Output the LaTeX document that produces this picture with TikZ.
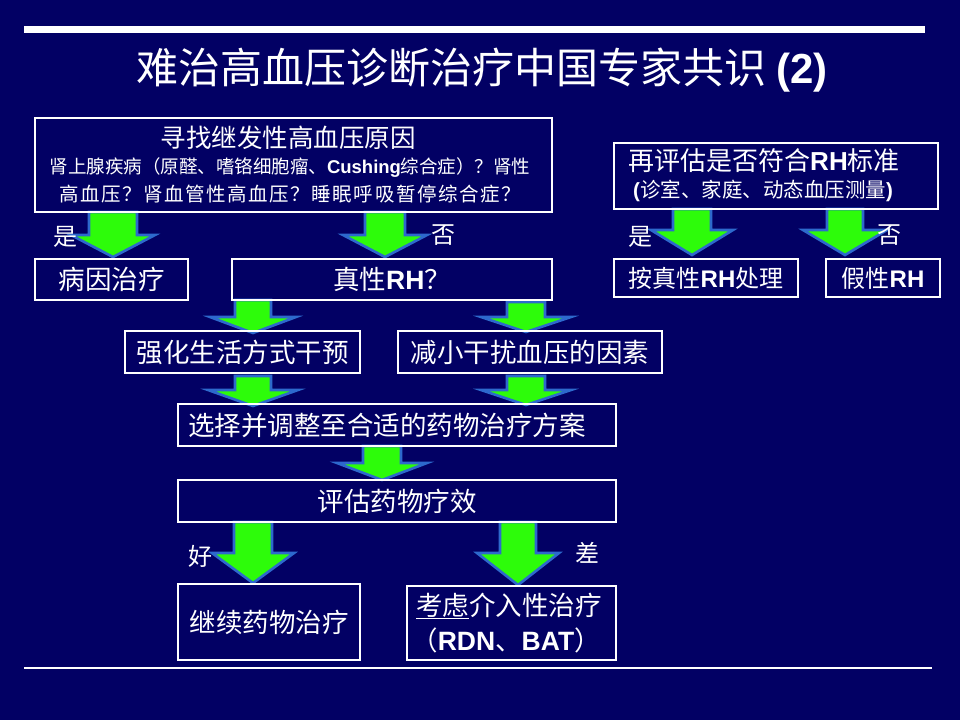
\documentclass[tikz,border=0pt]{standalone}
\usepackage{fontspec}
\setmainfont{Noto Sans CJK SC}
\newfontfamily\latinb{Liberation Sans}
\definecolor{bgnavy}{RGB}{2,0,100}
\definecolor{agreen}{RGB}{45,252,10}
\definecolor{ablue}{RGB}{45,105,205}
\newcommand\barrow[6]{%
  \filldraw[ablue,line width=2.6pt,line join=miter,fill=agreen]
  ({#1-#5},#2) -- ({#1+#5},#2) -- ({#1+#5},#3) -- ({#1+#6},#3) -- (#1,#4)
  -- ({#1-#6},#3) -- ({#1-#5},#3) -- cycle;}
\newcommand\RH[1]{{\latinb\bfseries #1}}
\begin{document}
\begin{tikzpicture}[x=1pt,y=-1pt,
  box/.style={draw=white,line width=1.3pt,inner sep=0pt,text=white,align=center},
  bfont/.style={font=\fontsize{26.5}{30}\selectfont},
  btext/.style={text=white,inner sep=0pt,bfont},
  lab/.style={text=white,inner sep=0pt,font=\fontsize{24}{28}\selectfont}]
\fill[bgnavy] (0,0) rectangle (960,720);
\useasboundingbox (0,0) rectangle (960,720);
% top and bottom rules
\fill[white] (24,26) rectangle (925,33);
\draw[white,line width=1.3pt] (24,668) -- (932,668);
% title
\node[text=white,inner sep=0pt,font=\fontsize{42}{46}\selectfont] (title) at (482,70)
  {难治高血压诊断治疗中国专家共识 {\latinb\bfseries (2)}};
% arrows (drawn first so boxes overlap them)
\barrow{113}{212}{235}{257}{24}{42}
\barrow{385}{212}{235}{257}{20}{42}
\barrow{692}{209}{230}{255}{19}{41}
\barrow{845}{209}{230}{255}{18}{42}
\barrow{253}{300}{317}{333}{18}{43}
\barrow{526}{302}{317}{332}{19}{45}
\barrow{253}{376}{390}{406}{18}{45}
\barrow{526}{376}{390}{405}{19}{45}
\barrow{382}{446}{463}{480}{19}{45}
\barrow{253}{522}{553}{583}{19}{41}
\barrow{518}{522}{553}{585}{18}{41}
% boxes
\node[box,minimum width=517pt,minimum height=94pt] (A) at (293.5,165) {};
\node[text=white,inner sep=0pt,font=\fontsize{25.5}{30}\selectfont] (Al1) at (288,138) {寻找继发性高血压原因};
\node[text=white,inner sep=0pt,font=\fontsize{18.5}{24}\selectfont] (Al2) at (290,168)
  {肾上腺疾病（原醛、嗜铬细胞瘤、\RH{Cushing}综合症）？肾性};
\node[text=white,inner sep=0pt,font=\fontsize{19.5}{24}\selectfont\addfontfeature{LetterSpace=8}] (Al3) at (290,194)
  {高血压？肾血管性高血压？睡眠呼吸暂停综合症？};
\node[box,minimum width=153pt,minimum height=41pt,bfont] (bingyin) at (111.5,279.5) {病因治疗};
\node[box,minimum width=320pt,minimum height=41pt,bfont] (zhenxing) at (392,279.5) {真性\RH{RH}？};
\node[box,minimum width=235pt,minimum height=42pt,bfont] (qianghua) at (242.5,352) {强化生活方式干预};
\node[box,minimum width=264pt,minimum height=42pt,bfont] (jianxiao) at (530,352) {减小干扰血压的因素};
\node[box,minimum width=438pt,minimum height=42pt] (xuanze) at (397,425) {};
\node[btext,anchor=west] (xuanzet) at (188,425) {选择并调整至合适的药物治疗方案};
\node[box,minimum width=438pt,minimum height=42pt,bfont] (pinggu) at (397,501) {评估药物疗效};
\node[box,minimum width=182pt,minimum height=76pt,bfont] (jixu) at (269,622) {继续药物治疗};
\node[box,minimum width=209pt,minimum height=74pt] (kaolv) at (511.5,623) {};
\node[btext] (kaolv1) at (509,606) {\underline{考虑}介入性治疗};
\node[btext] (kaolv2) at (506,640) {（\RH{RDN}、\RH{BAT}）};
\node[box,minimum width=324pt,minimum height=66pt] (zai) at (776,176) {};
\node[text=white,inner sep=0pt,font=\fontsize{26}{30}\selectfont] (zai1) at (764,161) {再评估是否符合\RH{RH}标准};
\node[text=white,inner sep=0pt,font=\fontsize{20.5}{24}\selectfont] (zai2) at (763,191) {\RH{(}诊室、家庭、动态血压测量\RH{)}};
\node[box,minimum width=184pt,minimum height=38pt,font=\fontsize{24}{28}\selectfont] (anzhen) at (706,278) {按真性\RH{RH}处理};
\node[box,minimum width=114pt,minimum height=38pt,font=\fontsize{24}{28}\selectfont] (jiaxing) at (883,278) {假性\RH{RH}};
% labels
\node[lab] (shi1) at (65,237) {是};
\node[lab] (fou1) at (443,235) {否};
\node[lab] (shi2) at (640,237) {是};
\node[lab] (fou2) at (889,235) {否};
\node[lab] (hao) at (200,556) {好};
\node[lab] (cha) at (587,553) {差};
\end{tikzpicture}
\end{document}
